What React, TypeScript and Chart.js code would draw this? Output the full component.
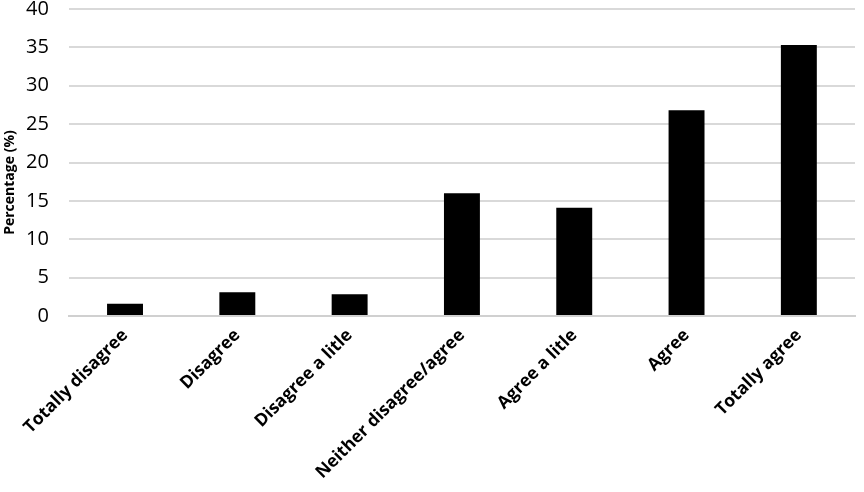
import React, { useEffect, useRef } from "react";
import { Chart, registerables } from "chart.js";

Chart.register(...registerables);

const categories = [
  "Totally disagree",
  "Disagree",
  "Disagree a litle",
  "Neither disagree/agree",
  "Agree a litle",
  "Agree",
  "Totally agree",
];
const percentages = [1.6, 3.1, 2.85, 16.0, 14.1, 26.8, 35.3];
const yTitle = "Percentage (%)";

const yTitlePlugin = {
  id: "yTitlePlugin",
  afterDraw(chart: any) {
    const { ctx, chartArea } = chart;
    ctx.save();
    ctx.translate(10, (chartArea.top + chartArea.bottom) / 2 + 20);
    ctx.rotate(-Math.PI / 2);
    ctx.font = "bold 14px 'Open Sans'";
    ctx.fillStyle = "#000";
    ctx.textAlign = "center";
    ctx.textBaseline = "middle";
    ctx.fillText(yTitle, 0, 0);
    ctx.restore();
  },
};

export default function App() {
  const ref = useRef<HTMLCanvasElement>(null);
  useEffect(() => {
    document.body.style.margin = "0";
    const ctx = ref.current!.getContext("2d")!;
    const chart = new Chart(ctx, {
      type: "bar",
      data: {
        labels: categories,
        datasets: [
          {
            data: percentages,
            backgroundColor: "#000000",
            borderWidth: 0,
            barPercentage: 0.64,
            categoryPercentage: 0.5,
          },
        ],
      },
      plugins: [yTitlePlugin],
      options: {
        animation: false,
        responsive: false,
        maintainAspectRatio: false,
        layout: { padding: { top: 9, right: 9, left: 6, bottom: 0 } },
        plugins: { legend: { display: false }, tooltip: { enabled: false } },
        scales: {
          x: {
            afterFit: (scale: any) => {
              scale.paddingLeft = 0;
              scale.paddingRight = 0;
            },
            grid: { display: false, drawTicks: false },
            border: { display: true, color: "#d0d0d0", width: 2 },
            ticks: {
              minRotation: 45,
              maxRotation: 45,
              padding: 9,
              color: "#000",
              font: { family: "Open Sans", size: 17.5, weight: "bold" },
            },
          },
          y: {
            min: 0,
            max: 40,
            afterFit: (scale: any) => {
              scale.paddingTop = 0;
            },
            ticks: {
              stepSize: 5,
              padding: 20,
              color: "#000",
              font: { family: "Open Sans", size: 20 },
            },
            grid: { color: "#d9d9d9", lineWidth: 2, drawTicks: false },
            border: { display: false },
          },
        },
      },
    });
    return () => chart.destroy();
  }, []);
  return (
    <div style={{ position: "absolute", left: 0, top: 0, width: 864, height: 492 }}>
      <canvas ref={ref} width={864} height={492} />
    </div>
  );
}
